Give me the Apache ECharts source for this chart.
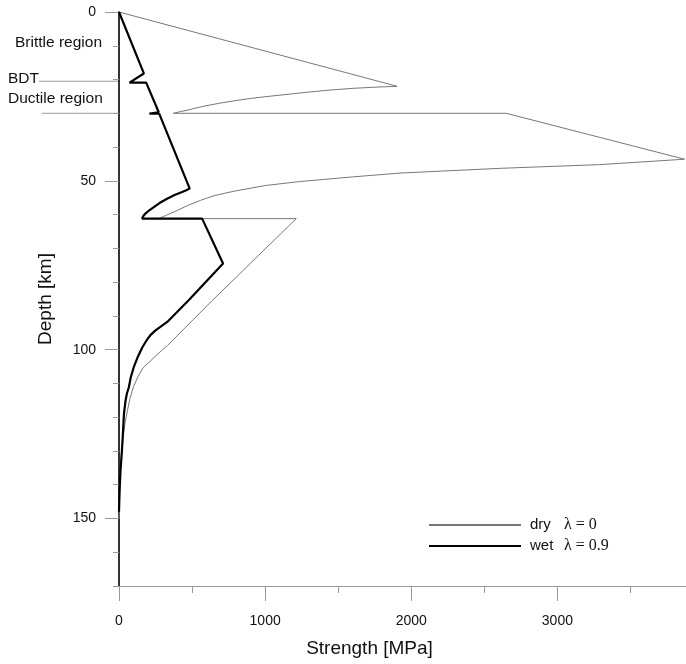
<!DOCTYPE html>
<html>
<head>
<meta charset="utf-8">
<script src="https://cdn.jsdelivr.net/npm/echarts@6/dist/echarts.min.js"></script>
<style>
  html, body { margin: 0; padding: 0; background: #fff; }
  #main { width: 686px; height: 664px; }
</style>
</head>
<body>
<div id="main"></div>
<script>
// strength in MPa, depth in km
var dryStrength = [0, 1903, 1760, 1605, 1450, 1300, 1150, 1020, 899, 790, 690, 580, 520, 466, 420, 372,
    2649, 3870, 3290, 2607, 1923, 1582, 1240, 1000, 785, 650, 557, 470, 398, 318, 270,
    1213, 637, 331, 293, 240, 200, 167, 130, 99, 75, 58, 42, 31, 17, 8, 3, 0];
var dryDepth = [0, 22.0, 22.25, 22.6, 23.1, 23.7, 24.4, 25.0, 25.6, 26.3, 27.0, 27.9, 28.5, 29.1, 29.5, 30.0,
    30.0, 43.6, 45.2, 46.3, 47.7, 48.9, 50.2, 51.4, 53.1, 54.4, 55.8, 57.3, 58.8, 60.3, 61.2,
    61.2, 85.5, 98.8, 100.2, 102.3, 104.0, 105.2, 108, 111, 114.5, 118, 121.5, 125, 131, 137, 144, 150];

var wetStrength = [0, 170, 72, 186, 272, 208, 275, 484, 460, 432, 380, 329, 280, 238, 205, 181, 165, 158,
    569, 712, 480, 330, 250, 215, 185, 160, 130, 101, 80, 67, 54, 44, 34, 29, 20, 10, 4, 0];
var wetDepth = [0, 18.2, 20.9, 20.9, 29.7, 30.1, 30.1, 52.3, 52.8, 53.3, 54.2, 55.3, 56.5, 57.8, 58.8, 59.7, 60.5, 61.2,
    61.2, 74.5, 85.2, 91.8, 94.3, 95.7, 97.5, 99.3, 102, 105.2, 108.3, 111.2, 113, 115.3, 119, 123, 130, 136, 142, 148];

var depthTicks = [0, 50, 100, 150];
var depthMinor = [0, 10, 20, 30, 40, 50, 60, 70, 80, 90, 100, 110, 120, 130, 140, 150, 160, 170];
var strengthTicks = [0, 1000, 2000, 3000];
var strengthMinor = [0, 500, 1000, 1500, 2000, 2500, 3000, 3500];

var seriesNames = ['dry', 'wet'];
var lambdaLabels = ['λ = 0', 'λ = 0.9'];

var regionLabels = ['Brittle region', 'BDT', 'Ductile region'];
var boundaryDepths = [20.5, 30];

function zip(xs, ys) {
    var out = [];
    for (var i = 0; i < xs.length; i++) {
        out.push([xs[i], ys[i]]);
    }
    return out;
}

var sans = 'Liberation Sans, Arial, sans-serif';
var serif = 'Liberation Serif, DejaVu Serif, serif';

var chart = echarts.init(document.getElementById('main'));

var option = {
    animation: false,
    grid: { left: 119, top: 12, right: 0, bottom: 78 },
    legend: {
        orient: 'vertical',
        left: 423,
        top: 512,
        itemWidth: 92,
        itemHeight: 14,
        itemGap: 5,
        data: seriesNames,
        itemStyle: { opacity: 0 },
        formatter: function (name) {
            return '{a|' + name + '}{b|' + lambdaLabels[seriesNames.indexOf(name)] + '}';
        },
        textStyle: {
            lineHeight: 16,
            rich: {
                a: { fontFamily: sans, fontSize: 15, color: '#111', width: 34, padding: [0, 0, 0, 4] },
                b: { fontFamily: serif, fontSize: 16, color: '#111' }
            }
        }
    },
    xAxis: [{
        type: 'value',
        min: 0,
        max: 3880,
        position: 'bottom',
        name: 'Strength [MPa]',
        nameLocation: 'middle',
        nameGap: 53,
        nameTextStyle: { fontFamily: sans, fontSize: 19, color: '#111', padding: [0, 66, 0, 0] },
        splitLine: { show: false },
        axisLine: { onZero: false, lineStyle: { color: '#999', width: 1 } },
        axisTick: { inside: false, length: 7, lineStyle: { color: '#999' }, customValues: strengthMinor },
        axisLabel: {
            customValues: strengthTicks, margin: 28, fontFamily: sans, fontSize: 14, color: '#111',
            formatter: function (v) { return String(v); }
        }
    }, {
        type: 'value',
        min: 0,
        max: 3880,
        position: 'bottom',
        splitLine: { show: false },
        axisLine: { show: false, onZero: false },
        axisTick: { inside: false, length: 15, lineStyle: { color: '#999' }, customValues: strengthTicks },
        axisLabel: { show: false }
    }],
    yAxis: [{
        type: 'value',
        inverse: true,
        min: 0,
        max: 170,
        name: 'Depth [km]',
        nameLocation: 'middle',
        nameGap: 64,
        nameTextStyle: { fontFamily: sans, fontSize: 19, color: '#111' },
        splitLine: { show: false },
        axisLine: { onZero: false, lineStyle: { color: '#000', width: 1.6 } },
        axisTick: { length: 6, lineStyle: { color: '#999' }, customValues: depthMinor },
        axisLabel: {
            customValues: depthTicks, margin: 23, fontFamily: sans, fontSize: 14, color: '#111',
            formatter: function (v) { return String(v); }
        }
    }, {
        type: 'value',
        inverse: true,
        min: 0,
        max: 170,
        position: 'left',
        splitLine: { show: false },
        axisLine: { show: false, onZero: false },
        axisTick: { length: 14, lineStyle: { color: '#999' }, customValues: depthTicks },
        axisLabel: { show: false }
    }],
    series: [{
        name: 'dry',
        type: 'line',
        xAxisIndex: 0,
        yAxisIndex: 0,
        symbol: 'none',
        lineStyle: { color: '#777', width: 1 },
        itemStyle: { color: '#777' },
        data: zip(dryStrength, dryDepth)
    }, {
        name: 'wet',
        type: 'line',
        xAxisIndex: 0,
        yAxisIndex: 0,
        symbol: 'none',
        lineStyle: { color: '#000', width: 2.2 },
        itemStyle: { color: '#000' },
        data: zip(wetStrength, wetDepth)
    }]
};

chart.setOption(option);

// region labels and boundary lines left of the depth axis
var axisX = chart.convertToPixel({ xAxisIndex: 0 }, 0);
var yBdt = chart.convertToPixel({ yAxisIndex: 0 }, boundaryDepths[0]);
var yDuc = chart.convertToPixel({ yAxisIndex: 0 }, boundaryDepths[1]);
var labelFont = '15.5px ' + sans;

chart.setOption({
    graphic: [
        { type: 'text', left: 15, top: 35, style: { text: regionLabels[0], font: labelFont, fill: '#111' } },
        { type: 'text', left: 8, top: 71, style: { text: regionLabels[1], font: labelFont, fill: '#111' } },
        { type: 'text', left: 8, top: 91, style: { text: regionLabels[2], font: labelFont, fill: '#111' } },
        { type: 'line', shape: { x1: 39, y1: yBdt, x2: axisX, y2: yBdt }, style: { stroke: '#999', lineWidth: 1 } },
        { type: 'line', shape: { x1: 42, y1: yDuc, x2: axisX, y2: yDuc }, style: { stroke: '#999', lineWidth: 1 } }
    ]
});
</script>
</body>
</html>
